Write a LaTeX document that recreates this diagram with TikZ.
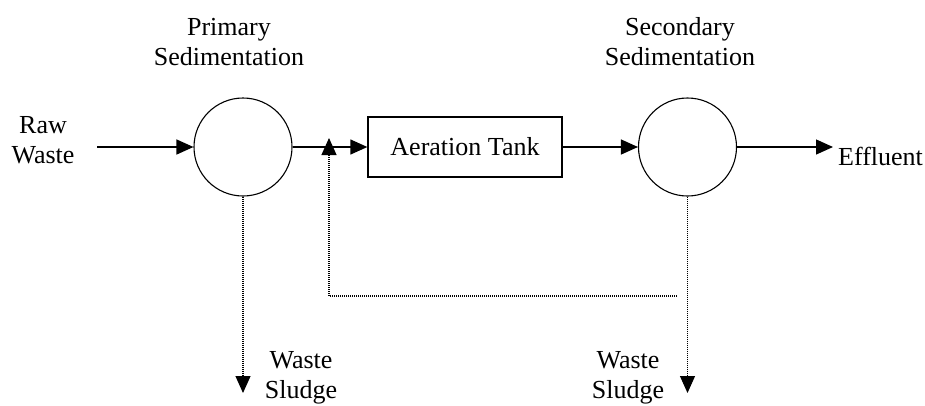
\documentclass[tikz,border=0pt]{standalone}
\usepackage{fontspec}
\setmainfont{Liberation Serif}
\usetikzlibrary{arrows.meta}
\begin{document}
\begin{tikzpicture}[x=1pt,y=-1pt,
  lbl/.style={font=\fontsize{26}{30}\selectfont, align=center, inner sep=0pt},
  vessel/.style={draw, circle, line width=1.1pt, minimum size=98pt, inner sep=0pt},
  tank/.style={draw, rectangle, line width=1.3pt, minimum width=194pt, minimum height=60pt, font=\fontsize{26}{30}\selectfont},
  flow/.style={line width=1.3pt, -{Triangle[length=17pt,width=15pt]}},
  dflow/.style={line width=1.1pt, dash pattern=on 1pt off 1pt, -{Triangle[length=17pt,width=15pt]}},
  dline/.style={line width=1.1pt, dash pattern=on 1pt off 1pt}]
\useasboundingbox (0,0) rectangle (925,405);
\node[vessel] (c1) at (243,147) {};
\node[vessel] (c2) at (687.5,147) {};
\node[tank] (tank) at (465,147) {Aeration Tank};
\node[lbl, anchor=base] (p1) at (229,65) {Primary\\Sedimentation};
\node[lbl, anchor=base] (p2) at (680,65) {Secondary\\Sedimentation};
\node[lbl, anchor=base] (raw) at (43,163) {Raw\\Waste};
\node[lbl, anchor=base west] (eff) at (838,165) {Effluent};
\node[lbl, anchor=base] (ws1) at (301,398) {Waste\\Sludge};
\node[lbl, anchor=base] (ws2) at (628,398) {Waste\\Sludge};
\coordinate (in) at (97,147);
\coordinate (effin) at (833,147);
\coordinate (rtip) at (329,138);
\coordinate (rc) at (329,296);
\coordinate (rend) at (677,296);
\coordinate (s1) at (243,393);
\coordinate (s2) at (687.5,393);
\draw[flow] (in) -- (c1);
\draw[flow] (c1) -- (tank);
\draw[flow] (tank) -- (c2);
\draw[flow] (c2) -- (effin);
\draw[dflow] (rend) -- (rc) -- (rtip);
\draw[dflow] (c1.south) -- (s1);
\draw[dflow] (c2.south) -- (s2);
\end{tikzpicture}
\end{document}
